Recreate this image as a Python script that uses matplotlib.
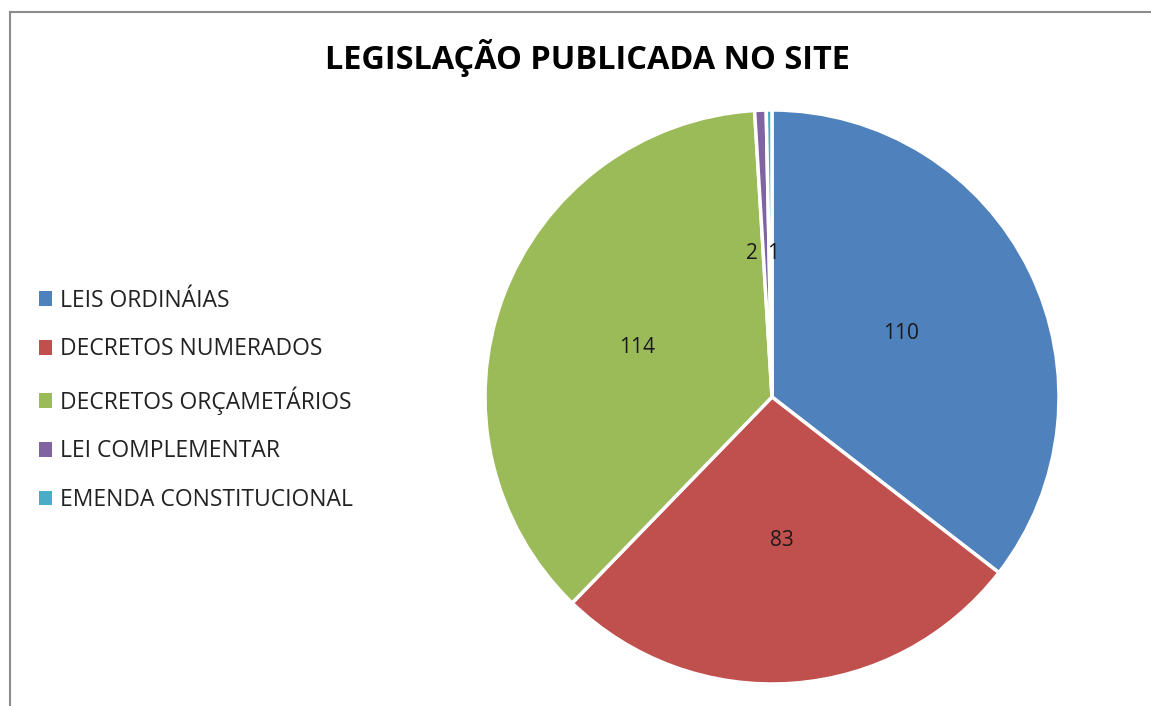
import matplotlib.pyplot as plt
from matplotlib.lines import Line2D

# data
categorias = ['LEIS ORDINÁIAS', 'DECRETOS NUMERADOS', 'DECRETOS ORÇAMETÁRIOS',
              'LEI COMPLEMENTAR', 'EMENDA CONSTITUCIONAL']
valores = [110, 83, 114, 2, 1]
cores = ['#4F81BD', '#C0504D', '#9BBB59', '#8064A2', '#4BACC6']

W, H = 1151, 706
fig = plt.figure(figsize=(W / 100, H / 100), dpi=100)
fig.patch.set_facecolor('white')

# pie axes placed in pixels: centre ~ (772, 397), radius ~ 287
cx, cy, r = 772, 397, 287
ax = fig.add_axes([(cx - r) / W, (H - cy - r) / H, 2 * r / W, 2 * r / H])
wedges, texts = ax.pie(valores, colors=cores, startangle=90, counterclock=False,
                       labels=[str(v) for v in valores], labeldistance=0.5,
                       wedgeprops=dict(edgecolor='white', linewidth=2.5),
                       textprops=dict(fontsize=15, family='Open Sans', color='#1a1a1a'))
ax.set_xlim(-1, 1)
ax.set_ylim(-1, 1)
ax.set_aspect('equal')
for t in texts:
    t.set_horizontalalignment('center')

# small slices: Excel pushes those two labels apart
texts[3].set_position((-0.07, 0.5))
texts[4].set_position((0.005, 0.5))

fig.text(587 / W, 1 - 58 / H, 'LEGISLAÇÃO PUBLICADA NO SITE', ha='center', va='center',
         fontsize=23.4, fontweight='bold', family='Open Sans', color='black')

leg = fig.legend(wedges, categorias, loc='upper left', bbox_to_anchor=(18 / W, 1 - 268 / H),
                 frameon=False, handlelength=0.6, handleheight=0.6, handletextpad=0.35,
                 labelspacing=1.08, prop=dict(family='Open Sans', size=16.5))
for t in leg.get_texts():
    t.set_color('#222222')
for h in leg.legend_handles:
    h.set_edgecolor('none')

# chart area border (only top and left visible in reference)
fig.add_artist(Line2D([10 / W, 10 / W], [0, 1 - 12 / H], color='#8c8c8c', linewidth=1.5))
fig.add_artist(Line2D([10 / W, 1], [1 - 12 / H, 1 - 12 / H], color='#8c8c8c', linewidth=1.5))

fig.savefig('out.png', dpi=100, facecolor='white')
